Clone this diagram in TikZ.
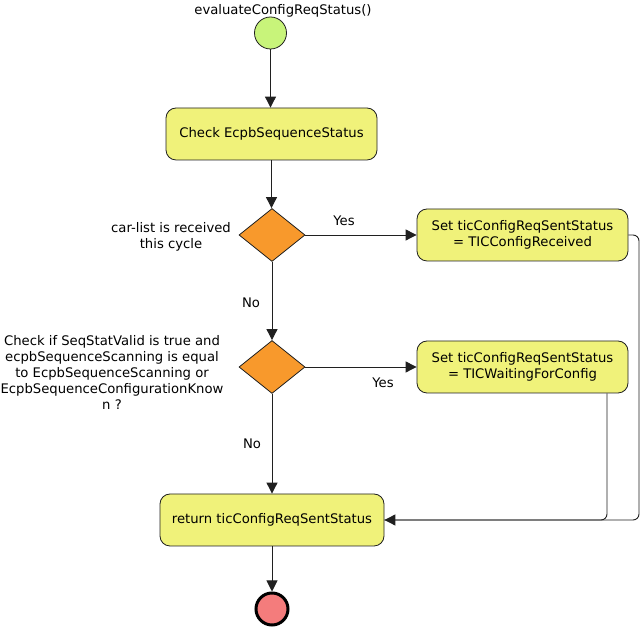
\documentclass[tikz,border=0pt]{standalone}
\usepackage{fontspec}
\setmainfont{DejaVu Sans}
\usetikzlibrary{shapes.geometric,arrows.meta}
\definecolor{startgreen}{HTML}{C8F47A}
\definecolor{boxyellow}{HTML}{F0F27A}
\definecolor{decorange}{HTML}{F8992C}
\definecolor{endred}{HTML}{F47C7C}
\definecolor{linecol}{HTML}{202020}
\begin{document}
\begin{tikzpicture}[x=1pt,y=1pt,
  every node/.style={font=\fontsize{13.2}{16}\selectfont, text=black},
  actbox/.style={draw=linecol, fill=boxyellow, rounded corners=10pt, minimum height=52pt, align=center, inner sep=2pt, line width=0.8pt},
  decision/.style={diamond, draw=linecol, fill=decorange, minimum width=66pt, minimum height=53pt, inner sep=0pt, line width=0.8pt},
  arr/.style={draw=linecol, line width=0.9pt, -{Triangle[length=11pt,width=11pt]}},
  conn/.style={draw=linecol, line width=0.9pt},
  lbl/.style={align=center, inner sep=0pt}
]
\useasboundingbox (0,0) rectangle (641,629);
\node[circle, draw=linecol, fill=startgreen, minimum size=32pt, inner sep=0pt, line width=0.8pt] (start) at (270.5,596) {};
\node[lbl] (startlbl) at (283,618) {evaluateConfigReqStatus()};
\node[actbox, minimum width=211pt] (b1) at (271.5,495) {Check EcpbSequenceStatus};
\node[decision] (d1) at (272,394) {};
\node[actbox, minimum width=211pt] (b2) at (522.5,394) {Set ticConfigReqSentStatus\\= TICConfigReceived};
\node[decision] (d2) at (272,262) {};
\node[actbox, minimum width=211pt] (b3) at (522.5,262) {Set ticConfigReqSentStatus\\= TICWaitingForConfig};
\node[actbox, minimum width=224pt] (b4) at (272,109) {return ticConfigReqSentStatus};
\node[circle, draw=black, fill=endred, minimum size=32pt, inner sep=0pt, line width=3pt] (end) at (272,20) {};

\node[lbl] (l1) at (171,392) {car-list is received\\this cycle};
\node[lbl] (l2) at (112,257) {Check if SeqStatValid is true and\\ecpbSequenceScanning is equal\\to EcpbSequenceScanning or\\EcpbSequenceConfigurationKnow\\n ?};
\node[lbl] (y1) at (344,408) {Yes};
\node[lbl] (y2) at (383,246) {Yes};
\node[lbl] (n1) at (251,326) {No};
\node[lbl] (n2) at (252,185) {No};

\coordinate (rc) at (639,109);
\coordinate (b3out) at ([xshift=84.5pt]b3.south);

\draw[arr] (start) -- (start |- b1.north);
\draw[arr] (b1) -- (b1 |- d1.north);
\draw[arr] (d1) -- (b2);
\draw[arr] (d1) -- (d2);
\draw[arr] (d2) -- (b3);
\draw[arr] (d2) -- (b4);
\draw[arr] (b4) -- (end);
\draw[arr, rounded corners=6pt] (b2.east) -| (rc) -- (b4.east);
\draw[conn, rounded corners=6pt] (b3out) |- (b4.east);
\end{tikzpicture}
\end{document}
